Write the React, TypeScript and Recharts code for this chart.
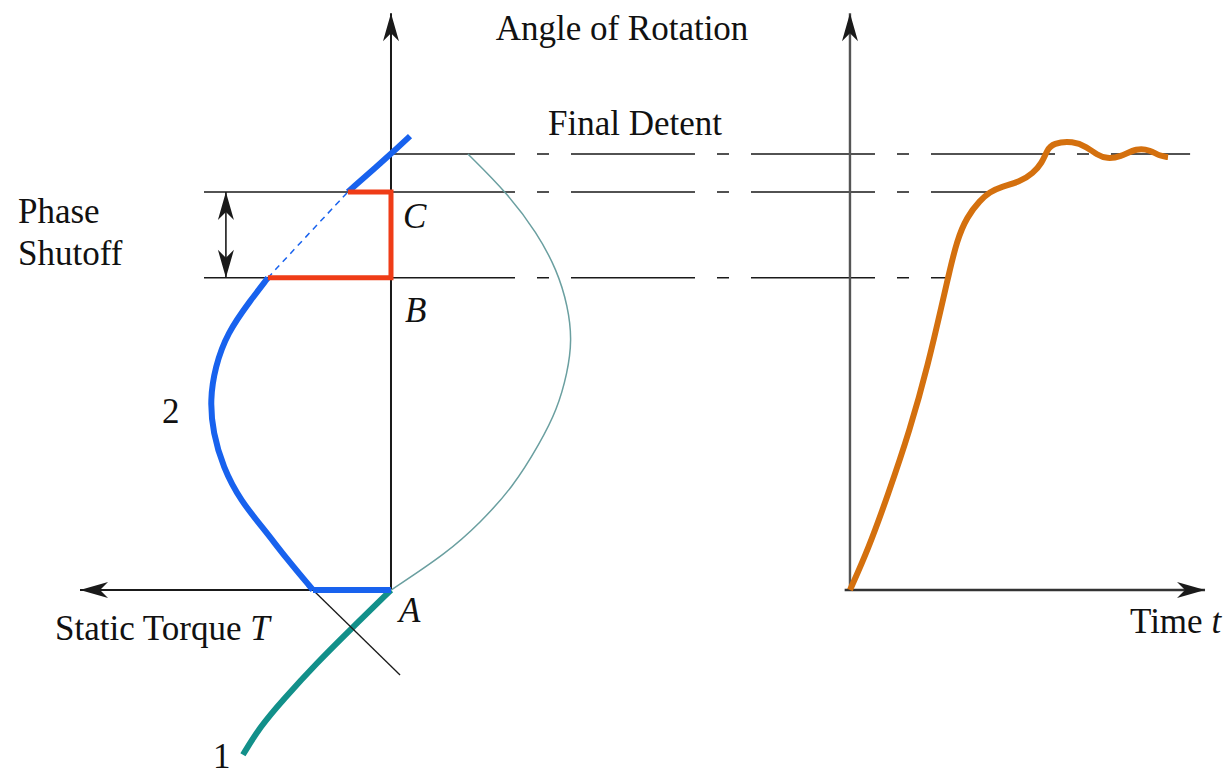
import { ComposedChart, Line, XAxis, YAxis } from 'recharts';

const WIDTH = 1232;
const HEIGHT = 776;

// angle in steps (final detent = 1), static torque relative to peak, time in ms
const FINAL_DETENT = 1;
const SHUTOFF_C = 0.913;
const SHUTOFF_B = 0.716;

const TORQUE_DOMAIN: [number, number] = [-4.646, 2.16];
const TIME_DOMAIN: [number, number] = [-23.94, 10.76];
const ANGLE_DOMAIN: [number, number] = [-0.4266, 1.3532];

// curve 1: thick below A, thin above
const phase1LowAngle = [0, -0.092, -0.167, -0.252, -0.314, -0.378];
const phase1LowTorque = [0, 0.227, 0.409, 0.597, 0.724, 0.818];
const phase1HighAngle = [0, 0.085, 0.154, 0.236, 0.337, 0.413, 0.498, 0.573, 0.65, 0.734, 0.819, 0.911, 1.0];
const phase1HighTorque = [0, -0.309, -0.492, -0.674, -0.823, -0.917, -0.975, -1.0, -0.978, -0.917, -0.807, -0.641, -0.425];

// curve 2
const phase2Angle = [0, 0.076, 0.131, 0.206, 0.282, 0.36, 0.436, 0.511, 0.589, 0.665, 0.716, 0.819, 0.913, 1.0, 1.041];
const phase2Torque = [0.431, 0.585, 0.685, 0.834, 0.928, 0.983, 1.0, 0.972, 0.906, 0.775, 0.68, 0.45, 0.238, 0, -0.105];
const phase2TailAngle = [0, -0.195];
const phase2TailTorque = [0.431, -0.05];

// rotor angle vs time
const responseTime = [0, 0.507, 1.07, 1.69, 2.197, 2.62, 2.761, 3.014, 3.296, 3.662, 3.944, 4.225, 4.789, 5.155, 5.408, 5.549, 5.718, 6.282, 6.676, 6.958, 7.239, 7.606, 8.085, 8.451, 8.732, 8.958];
const responseAngle = [0, 0.092, 0.218, 0.367, 0.516, 0.665, 0.716, 0.803, 0.856, 0.894, 0.913, 0.924, 0.936, 0.956, 0.979, 1.009, 1.025, 1.03, 1.016, 0.998, 0.989, 0.993, 1.014, 1.009, 0.995, 0.993];

// horizontal guides: angle, left end (torque), right end (time)
const guideAngle = [FINAL_DETENT, SHUTOFF_C, SHUTOFF_B];
const guideTorqueStart = [0, 1.033, 1.033];
const guideTimeEnd = [9.58, 3.944, 2.761];

const SHUTOFF_ARROW_TORQUE = 0.912;
const ANGLE_AXIS_TOP = 1.323;
const TORQUE_AXIS_END = 1.718;
const TIME_AXIS_END = 10.0;

const zipT = (torque: number[], angle: number[]) => torque.map((T, i) => ({ T, theta: angle[i] }));
const zipTime = (time: number[], angle: number[]) => time.map((t, i) => ({ t, theta: angle[i] }));

// torque value -> time value at the same horizontal position
const torqueToTime = (T: number) =>
  TIME_DOMAIN[0] + ((TORQUE_DOMAIN[1] - T) / (TORQUE_DOMAIN[1] - TORQUE_DOMAIN[0])) * (TIME_DOMAIN[1] - TIME_DOMAIN[0]);

const phase2 = zipT(phase2Torque, phase2Angle);
const iB = phase2Angle.indexOf(SHUTOFF_B);
const iC = phase2Angle.indexOf(SHUTOFF_C);

const ROT = { up: 0, right: 90, down: 180, left: -90 };
type Dir = keyof typeof ROT;

function arrowHeads(ends: Record<number, Dir>, color: string) {
  return (props: any) => {
    const { cx, cy, index } = props;
    const dir = ends[index];
    if (!dir || cx == null) return <g key={`n-${index}`} />;
    return (
      <path
        key={`a-${index}`}
        d={`M${cx},${cy} l-8,28 l8,-8 l8,8 z`}
        fill={color}
        transform={`rotate(${ROT[dir]} ${cx} ${cy})`}
      />
    );
  };
}

const BLUE = '#1862ee';
const RED = '#ef3c17';
const TEAL = '#12908a';
const THIN_TEAL = '#6a9fa0';
const ORANGE = '#d4700e';
const INK = '#1a1a1a';

const label = {
  fontFamily: "'Liberation Serif', 'Times New Roman', serif",
  fontSize: 35,
  fill: '#111',
};
const italic = { ...label, fontStyle: 'italic' as const };

const common = { yAxisId: 'angle', dataKey: 'theta', isAnimationActive: false, activeDot: false as const };

export default function App() {
  return (
    <div style={{ position: 'absolute', left: 0, top: 0, width: WIDTH, height: HEIGHT, background: '#fff' }}>
      <ComposedChart width={WIDTH} height={HEIGHT} margin={{ top: 0, right: 0, bottom: 0, left: 0 }}>
        <XAxis xAxisId="torque" dataKey="T" type="number" domain={TORQUE_DOMAIN} reversed allowDataOverflow hide />
        <XAxis xAxisId="time" dataKey="t" type="number" domain={TIME_DOMAIN} allowDataOverflow hide />
        <YAxis yAxisId="angle" type="number" domain={ANGLE_DOMAIN} allowDataOverflow hide />

        {/* guides: solid on the torque side, dash-dot across to the response */}
        {guideAngle.map((theta, i) => (
          <Line
            key={`gl-${i}`}
            {...common}
            xAxisId="torque"
            type="linear"
            data={[{ T: guideTorqueStart[i], theta }, { T: 0, theta }]}
            stroke={INK}
            strokeWidth={1.6}
            dot={false}
          />
        ))}
        {guideAngle.map((theta, i) => (
          <Line
            key={`gr-${i}`}
            {...common}
            xAxisId="time"
            type="linear"
            data={[{ t: torqueToTime(0), theta }, { t: guideTimeEnd[i], theta }]}
            stroke={INK}
            strokeWidth={1.6}
            strokeDasharray="124 22 12 22"
            dot={false}
          />
        ))}

        {/* axes of the torque diagram */}
        <Line
          {...common}
          xAxisId="torque"
          type="linear"
          data={[{ T: 0, theta: 0 }, { T: 0, theta: ANGLE_AXIS_TOP }]}
          stroke={INK}
          strokeWidth={2}
          dot={arrowHeads({ 1: 'up' }, INK)}
        />
        <Line
          {...common}
          xAxisId="torque"
          type="linear"
          data={[{ T: 0, theta: 0 }, { T: TORQUE_AXIS_END, theta: 0 }]}
          stroke={INK}
          strokeWidth={2}
          dot={arrowHeads({ 1: 'left' }, INK)}
        />
        <Line
          {...common}
          xAxisId="torque"
          type="linear"
          data={[{ T: SHUTOFF_ARROW_TORQUE, theta: SHUTOFF_B }, { T: SHUTOFF_ARROW_TORQUE, theta: SHUTOFF_C }]}
          stroke={INK}
          strokeWidth={1.6}
          dot={arrowHeads({ 0: 'down', 1: 'up' }, INK)}
        />

        {/* axes of the response diagram */}
        <Line
          {...common}
          xAxisId="time"
          type="linear"
          data={[{ t: 0, theta: 0 }, { t: 0, theta: ANGLE_AXIS_TOP }]}
          stroke="#555"
          strokeWidth={2.4}
          dot={arrowHeads({ 1: 'up' }, INK)}
        />
        <Line
          {...common}
          xAxisId="time"
          type="linear"
          data={[{ t: -0.15, theta: 0 }, { t: TIME_AXIS_END, theta: 0 }]}
          stroke="#333"
          strokeWidth={2.4}
          dot={arrowHeads({ 1: 'right' }, INK)}
        />

        {/* curve 1 */}
        <Line {...common} xAxisId="torque" type="basis" data={zipT(phase1HighTorque, phase1HighAngle)} stroke={THIN_TEAL} strokeWidth={1.5} dot={false} />
        <Line {...common} xAxisId="torque" type="basis" data={zipT(phase1LowTorque, phase1LowAngle)} stroke={TEAL} strokeWidth={6} dot={false} />

        {/* curve 2 */}
        <Line {...common} xAxisId="torque" type="linear" data={zipT(phase2TailTorque, phase2TailAngle)} stroke={INK} strokeWidth={1.3} dot={false} />
        <Line {...common} xAxisId="torque" type="linear" data={[{ T: 0, theta: 0 }, phase2[0]]} stroke={BLUE} strokeWidth={6} dot={false} />
        <Line {...common} xAxisId="torque" type="basis" data={phase2.slice(0, iB + 1)} stroke={BLUE} strokeWidth={6} dot={false} />
        <Line {...common} xAxisId="torque" type="basis" data={phase2.slice(iB, iC + 1)} stroke={BLUE} strokeWidth={1.5} strokeDasharray="6 5" dot={false} />
        <Line {...common} xAxisId="torque" type="basis" data={phase2.slice(iC)} stroke={BLUE} strokeWidth={6} dot={false} />

        {/* shutoff path B -> C */}
        <Line
          {...common}
          xAxisId="torque"
          type="linear"
          data={[
            { T: phase2Torque[iC], theta: SHUTOFF_C },
            { T: 0, theta: SHUTOFF_C },
            { T: 0, theta: SHUTOFF_B },
            { T: phase2Torque[iB], theta: SHUTOFF_B },
          ]}
          stroke={RED}
          strokeWidth={5}
          dot={false}
        />

        {/* rotor response */}
        <Line {...common} xAxisId="time" type="basis" data={zipTime(responseTime, responseAngle)} stroke={ORANGE} strokeWidth={6} dot={false} />

        <text x={622} y={40} textAnchor="middle" style={label}>Angle of Rotation</text>
        <text x={635} y={135} textAnchor="middle" style={label}>Final Detent</text>
        <text x={18} y={223} style={label}>Phase</text>
        <text x={18} y={265} style={label}>Shutoff</text>
        <text x={403} y={228} style={italic}>C</text>
        <text x={405} y={322} style={italic}>B</text>
        <text x={399} y={622} style={italic}>A</text>
        <text x={162} y={423} style={label}>2</text>
        <text x={213} y={768} style={label}>1</text>
        <text x={55} y={640} style={label}>
          Static Torque <tspan style={{ fontStyle: 'italic' }}>T</tspan>
        </text>
        <text x={1130} y={633} style={label}>
          Time <tspan style={{ fontStyle: 'italic' }}>t</tspan>
        </text>
      </ComposedChart>
    </div>
  );
}
